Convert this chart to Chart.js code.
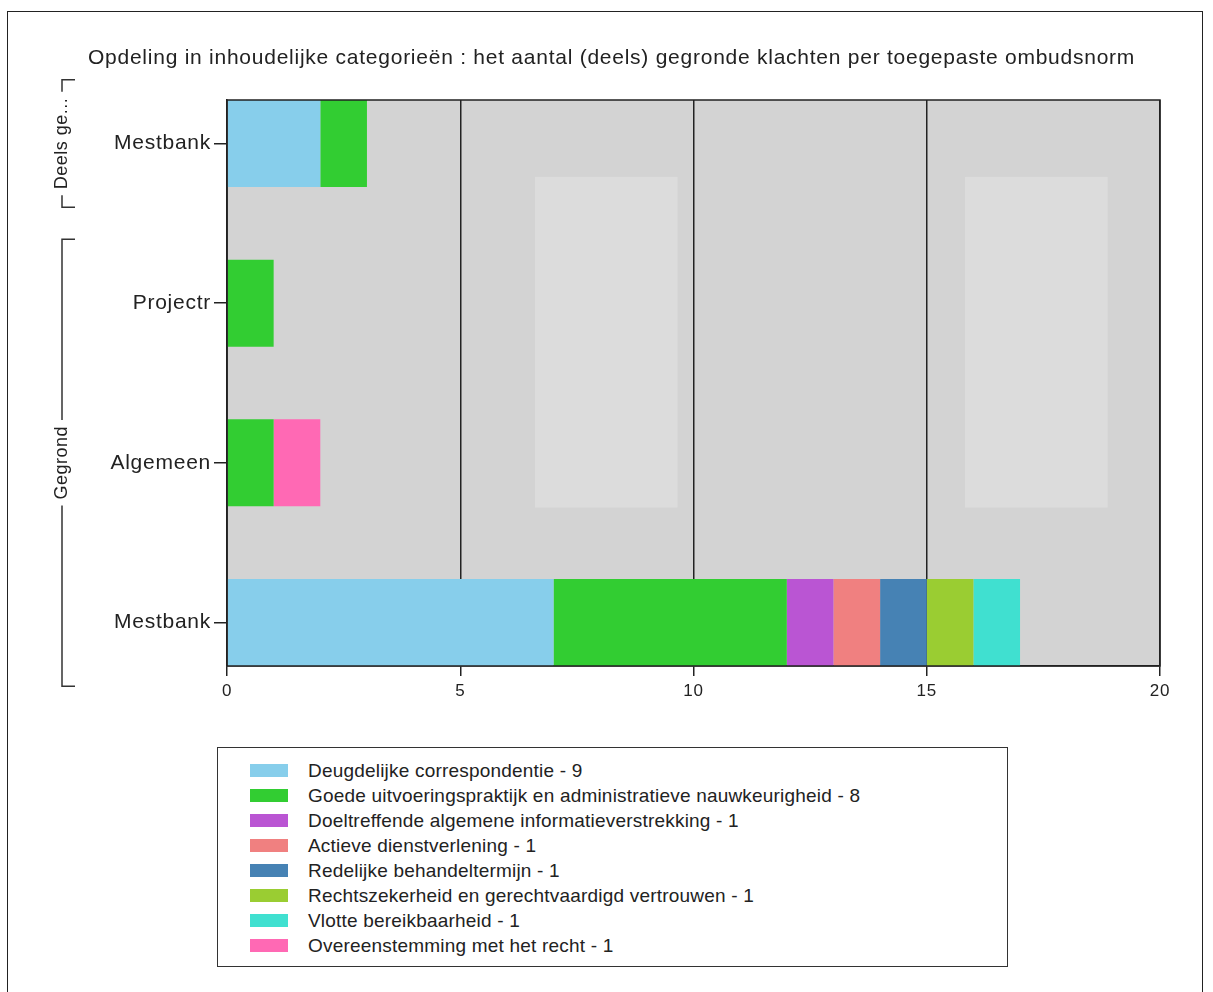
<!DOCTYPE html>
<html>
<head>
<meta charset="utf-8">
<script src="https://cdn.jsdelivr.net/npm/chart.js@4/dist/chart.umd.min.js"></script>
<style>
  html, body { margin: 0; padding: 0; background: #fff; }
  body { width: 1213px; height: 992px; position: relative; overflow: hidden;
         font-family: "Liberation Sans", Arial, sans-serif; color: #222; }
  #frame { position: absolute; left: 7px; top: 11px; width: 1196px; height: 1000px;
           border: 1.5px solid #222; border-bottom: none; box-sizing: border-box; }
  #wrap { position: absolute; left: 0; top: 0; width: 1213px; height: 720px; }
  #legend { position: absolute; left: 217px; top: 747px; width: 791px; height: 220px;
            border: 1.5px solid #333; box-sizing: border-box; background: #fff; }
  #legend ul { list-style: none; margin: 0; padding: 0; position: absolute; left: 32px; top: 10px; }
  #legend li { height: 25px; display: flex; align-items: center; font-size: 19px;
               letter-spacing: 0.2px; white-space: nowrap; }
  #legend .sw { width: 38px; height: 13px; margin-right: 20px; flex: none; }
</style>
</head>
<body>
<div id="frame"></div>
<div id="wrap"><canvas id="chart" width="1213" height="720"></canvas></div>
<div id="legend"><ul id="legend-list"></ul></div>
<script>
// Rows (top to bottom) and the group each row belongs to
const rowLabels = ['Mestbank', 'Projectr', 'Algemeen', 'Mestbank'];
const groupNames = ['Deels ge...', 'Gegrond'];
const groupFirstRow = [0, 1];
const groupLastRow = [0, 3];

// Ombudsnormen and the number of (partly) founded complaints per row
const normNames = [
  'Deugdelijke correspondentie',
  'Goede uitvoeringspraktijk en administratieve nauwkeurigheid',
  'Doeltreffende algemene informatieverstrekking',
  'Actieve dienstverlening',
  'Redelijke behandeltermijn',
  'Rechtszekerheid en gerechtvaardigd vertrouwen',
  'Vlotte bereikbaarheid',
  'Overeenstemming met het recht'
];
const deugdelijke     = [2, 0, 0, 7];
const goede           = [1, 1, 1, 5];
const doeltreffende   = [0, 0, 0, 1];
const actieve         = [0, 0, 0, 1];
const redelijke       = [0, 0, 0, 1];
const rechtszekerheid = [0, 0, 0, 1];
const vlotte          = [0, 0, 0, 1];
const overeenstemming = [0, 0, 1, 0];
const normColors = ['#87CEEB', '#32CD32', '#BA55D3', '#F08080', '#4682B4', '#9ACD32', '#40E0D0', '#FF69B4'];
const xTicks = [0, 5, 10, 15, 20];

const seriesValues = [deugdelijke, goede, doeltreffende, actieve, redelijke, rechtszekerheid, vlotte, overeenstemming];

const datasets = seriesValues.map((vals, k) => ({
  label: normNames[k] + ' - ' + vals.reduce((a, b) => a + (b || 0), 0),
  data: vals.map((v, i) => ({ x: v, y: i })),
  backgroundColor: normColors[k],
  borderWidth: 0,
  categoryPercentage: 1,
  barPercentage: 0.545
}));

const FONT = '"Liberation Sans", Arial, sans-serif';
const PAD_LEFT = 88;      // left edge of the title
const AXIS_RIGHT = 227;   // where the value axis starts

// Slightly open letter spacing for all canvas text
const textSpacing = {
  id: 'textSpacing',
  beforeUpdate(chart) { chart.ctx.letterSpacing = '0.75px'; },
  beforeDraw(chart) { chart.ctx.letterSpacing = '0.75px'; }
};

// Grey plotting panel with two lighter inner panes
const panelBackground = {
  id: 'panelBackground',
  beforeDraw(chart) {
    const { ctx, chartArea: a } = chart;
    ctx.save();
    ctx.fillStyle = '#D3D3D3';
    ctx.fillRect(a.left, a.top, a.width, a.height);
    ctx.fillStyle = '#DCDCDC';
    const w = a.width, h = a.height;
    ctx.fillRect(a.left + 0.330 * w, a.top + 0.136 * h, 0.153 * w, 0.584 * h);
    ctx.fillRect(a.left + 0.791 * w, a.top + 0.136 * h, 0.153 * w, 0.584 * h);
    ctx.restore();
  }
};

// Frame around the plotting panel
const panelFrame = {
  id: 'panelFrame',
  afterDatasetsDraw(chart) {
    const { ctx, chartArea: a } = chart;
    ctx.save();
    ctx.strokeStyle = '#222';
    ctx.lineWidth = 1.5;
    ctx.strokeRect(a.left, a.top, a.width, a.height);
    ctx.restore();
  }
};

// Group brackets with rotated names to the left of the row labels
const groupBrackets = {
  id: 'groupBrackets',
  afterDraw(chart) {
    const { ctx } = chart;
    const y = chart.scales.y;
    const bx = 62, tick = 13;
    ctx.save();
    ctx.letterSpacing = '0.5px';
    ctx.strokeStyle = '#333';
    ctx.lineWidth = 1.5;
    ctx.fillStyle = '#222';
    ctx.font = '18px ' + FONT;
    groupNames.forEach((name, g) => {
      const top = y.getPixelForValue(groupFirstRow[g] - 0.4);
      const bot = y.getPixelForValue(groupLastRow[g] + 0.4);
      const mid = (top + bot) / 2;
      const half = ctx.measureText(name).width / 2 + 6;
      ctx.beginPath();
      ctx.moveTo(bx + tick, top); ctx.lineTo(bx, top);
      ctx.lineTo(bx, Math.max(top, mid - half));
      ctx.moveTo(bx, Math.min(bot, mid + half));
      ctx.lineTo(bx, bot); ctx.lineTo(bx + tick, bot);
      ctx.stroke();
      ctx.save();
      ctx.translate(bx, mid);
      ctx.rotate(-Math.PI / 2);
      ctx.textAlign = 'center';
      ctx.textBaseline = 'middle';
      ctx.fillText(name, 0, 0);
      ctx.restore();
    });
    ctx.restore();
  }
};

// Legend in its own box below the chart
const htmlLegend = {
  id: 'htmlLegend',
  afterUpdate(chart) {
    const list = document.getElementById('legend-list');
    list.innerHTML = '';
    chart.data.datasets.forEach(ds => {
      const li = document.createElement('li');
      const sw = document.createElement('span');
      sw.className = 'sw';
      sw.style.background = ds.backgroundColor;
      li.appendChild(sw);
      li.appendChild(document.createTextNode(ds.label));
      list.appendChild(li);
    });
  }
};

new Chart(document.getElementById('chart'), {
  type: 'bar',
  data: { datasets },
  plugins: [textSpacing, panelBackground, panelFrame, groupBrackets, htmlLegend],
  options: {
    indexAxis: 'y',
    responsive: false,
    animation: false,
    layout: { padding: { left: PAD_LEFT, right: 53, top: 0, bottom: 0 } },
    plugins: {
      legend: { display: false },
      tooltip: { enabled: false },
      title: {
        display: true,
        align: 'start',
        text: 'Opdeling in inhoudelijke categorieën : het aantal (deels) gegronde klachten per toegepaste ombudsnorm',
        color: '#222',
        font: { family: FONT, size: 21, weight: 'normal', lineHeight: 1.2 },
        padding: { top: 46, bottom: 28.8 }
      }
    },
    scales: {
      x: {
        type: 'linear',
        stacked: true,
        min: xTicks[0],
        max: xTicks[xTicks.length - 1],
        afterBuildTicks(scale) { scale.ticks = xTicks.map(v => ({ value: v })); },
        afterFit(scale) { scale.height = 54; },
        grid: { color: '#222', lineWidth: 1.5, tickLength: 10, drawOnChartArea: true },
        border: { display: true, color: '#222', width: 1.5 },
        ticks: { color: '#222', padding: 5, font: { family: FONT, size: 17 } }
      },
      y: {
        type: 'linear',
        stacked: true,
        reverse: true,
        offset: false,
        min: -0.2725,
        max: rowLabels.length - 1 + 0.2725,
        afterFit(scale) { scale.width = AXIS_RIGHT - PAD_LEFT; },
        grid: { offset: false, drawOnChartArea: false, drawTicks: true, tickLength: 13, color: '#222', lineWidth: 1.5 },
        border: { display: true, color: '#222', width: 1.5 },
        ticks: {
          stepSize: 1,
          includeBounds: false,
          padding: 3,
          color: '#222',
          font: { family: FONT, size: 21 },
          callback: v => (Number.isInteger(v) ? rowLabels[v] : '')
        }
      }
    }
  }
});
</script>
</body>
</html>
